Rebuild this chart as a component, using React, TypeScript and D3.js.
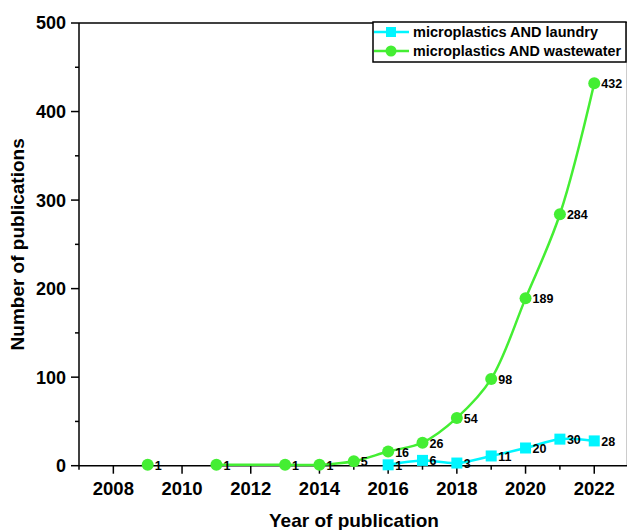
import React from "react";
import * as d3 from "d3";

const width = 628;
const height = 530;
const margin = { top: 23, right: 1, bottom: 64, left: 79 };

// data
const laundryYears = [2016, 2017, 2018, 2019, 2020, 2021, 2022];
const laundryCounts = [1, 6, 3, 11, 20, 30, 28];
const wastewaterYears = [2009, 2010, 2011, 2013, 2014, 2015, 2016, 2017, 2018, 2019, 2020, 2021, 2022];
const wastewaterCounts = [1, null, 1, 1, 1, 5, 16, 26, 54, 98, 189, 284, 432];
const xTickYears = [2008, 2010, 2012, 2014, 2016, 2018, 2020, 2022];
const yTickValues = [0, 100, 200, 300, 400, 500];
const seriesNames = ["microplastics AND laundry", "microplastics AND wastewater"];

const cyan = "#00f5ff";
const green = "#44ee33";
const font = "'Liberation Sans', Arial, sans-serif";

const App = () => {
    const x = d3.scaleLinear().domain([2007, 2023]).range([margin.left, margin.left + 34.35 * 16]);
    const y = d3.scaleLinear().domain([0, 500]).range([height - margin.bottom - 0.3, margin.top]);
    const right = width - margin.right;
    const bottom = y(0);

    const laundry = laundryYears.map((yr, i) => ({ year: yr, v: laundryCounts[i] }));
    const waste = wastewaterYears.map((yr, i) => ({ year: yr, v: wastewaterCounts[i] }));

    const line = d3
        .line<any>()
        .defined(d => d.v !== null)
        .x(d => x(d.year))
        .y(d => y(d.v))
        .curve(d3.curveCatmullRom.alpha(0.5));

    const minorX = d3.range(2007, 2023, 1).filter(yr => xTickYears.indexOf(yr) < 0);
    const minorY = [50, 150, 250, 350, 450];

    return (
        <svg width={width} height={height} style={{ position: "absolute", left: 0, top: 0 }} fontFamily={font}>
            {/* frame */}
            <line x1={margin.left} x2={right} y1={margin.top} y2={margin.top} stroke="#000" strokeWidth={1.5} />
            <line x1={right - 0.5} x2={right - 0.5} y1={margin.top} y2={bottom} stroke="#ccc" strokeWidth={1} />
            <line x1={margin.left} x2={right} y1={bottom} y2={bottom} stroke="#000" strokeWidth={1.5} />
            <line x1={margin.left} x2={margin.left} y1={margin.top} y2={bottom} stroke="#000" strokeWidth={1.5} />

            {/* y axis */}
            {yTickValues.map(t => (
                <g key={t}>
                    <line x1={margin.left - 8} x2={margin.left} y1={y(t)} y2={y(t)} stroke="#000" strokeWidth={1.5} />
                    <text x={margin.left - 13} y={y(t)} dy="0.36em" textAnchor="end" fontSize={18} fontWeight="bold">
                        {t}
                    </text>
                </g>
            ))}
            {minorY.map(t => (
                <line key={t} x1={margin.left - 4} x2={margin.left} y1={y(t)} y2={y(t)} stroke="#000" strokeWidth={1.5} />
            ))}

            {/* x axis */}
            {xTickYears.map(t => (
                <g key={t}>
                    <line x1={x(t)} x2={x(t)} y1={bottom} y2={bottom + 8} stroke="#000" strokeWidth={1.5} />
                    <text x={x(t)} y={bottom + 29} textAnchor="middle" fontSize={18.5} fontWeight="bold">
                        {t}
                    </text>
                </g>
            ))}
            {minorX.map(t => (
                <line key={t} x1={x(t)} x2={x(t)} y1={bottom} y2={bottom + 4} stroke="#000" strokeWidth={1.5} />
            ))}

            <text x={354} y={527} textAnchor="middle" fontSize={19} fontWeight="bold">
                Year of publication
            </text>
            <text
                transform={`translate(24,${(margin.top + bottom) / 2}) rotate(-90)`}
                textAnchor="middle"
                fontSize={19}
                fontWeight="bold"
            >
                Number of publications
            </text>

            {/* series */}
            <path d={line(waste) || ""} fill="none" stroke={green} strokeWidth={2.5} />
            <path d={line(laundry) || ""} fill="none" stroke={cyan} strokeWidth={2.5} />

            {waste
                .filter(d => d.v !== null)
                .map(d => (
                    <g key={d.year}>
                        <circle cx={x(d.year)} cy={y(d.v as number)} r={6} fill={green} />
                        <text x={x(d.year) + 7} y={y(d.v as number) + 5} fontSize={12.5} fontWeight="bold">
                            {d.v}
                        </text>
                    </g>
                ))}
            {laundry.map(d => (
                <g key={d.year}>
                    <rect x={x(d.year) - 5.5} y={y(d.v) - 5.5} width={11} height={11} fill={cyan} />
                    <text x={x(d.year) + 7} y={y(d.v) + 5} fontSize={12.5} fontWeight="bold">
                        {d.v}
                    </text>
                </g>
            ))}

            {/* legend */}
            <g transform="translate(373,22)">
                <rect x={0} y={0} width={253} height={40} fill="#fff" stroke="#000" strokeWidth={1.5} />
                {seriesNames.map((name, i) => {
                    const cy = 10 + i * 19;
                    const c = i === 0 ? cyan : green;
                    return (
                        <g key={name}>
                            <line x1={1} x2={36} y1={cy} y2={cy} stroke={c} strokeWidth={2.5} />
                            {i === 0 ? (
                                <rect x={18 - 5} y={cy - 5} width={10} height={10} fill={c} />
                            ) : (
                                <circle cx={18} cy={cy} r={5.5} fill={c} />
                            )}
                            <text
                                x={40}
                                y={cy}
                                dy="0.36em"
                                fontSize={14.5}
                                fontWeight="bold"
                                textLength={i === 0 ? 185 : 208}
                                lengthAdjust="spacingAndGlyphs"
                            >
                                {name}
                            </text>
                        </g>
                    );
                })}
            </g>
        </svg>
    );
};

export default App;
